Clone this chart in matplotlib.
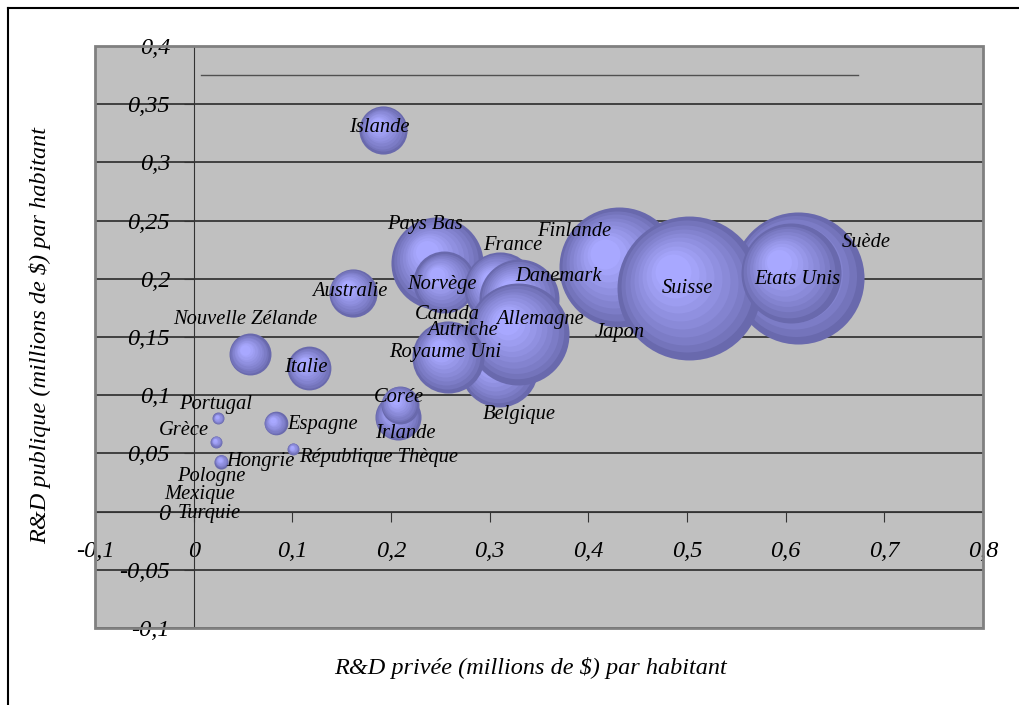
import numpy as np
import matplotlib
matplotlib.use("Agg")
import matplotlib.pyplot as plt
from matplotlib.ticker import MultipleLocator, FuncFormatter
from matplotlib.transforms import ScaledTranslation
from matplotlib.patches import Rectangle
from matplotlib.lines import Line2D

# R&D privée / publique par habitant, taille = poids de la bulle
pays = ['Suède', 'Finlande', 'Suisse', 'Etats Unis', 'Pays Bas', 'Norvège',
        'France', 'Danemark', 'Belgique', 'Allemagne', 'Royaume Uni',
        'Islande', 'Australie', 'Nouvelle Zélande', 'Italie', 'Irlande',
        'Corée', 'Espagne', 'Portugal', 'Grèce', 'République Thèque',
        'Hongrie', 'Canada', 'Autriche', 'Japon', 'Pologne', 'Mexique',
        'Turquie']
rd_privee = [0.612, 0.431, 0.502, 0.605, 0.247, 0.254, 0.310, 0.330, 0.309,
             0.329, 0.258, 0.192, 0.161, 0.057, 0.117, 0.207, 0.209, 0.083,
             0.025, 0.023, 0.101, 0.028, 0.257, 0.272, 0.432, 0.018, 0.006,
             0.016]
rd_publique = [0.201, 0.210, 0.192, 0.205, 0.214, 0.197, 0.192, 0.183, 0.123,
               0.153, 0.133, 0.328, 0.188, 0.135, 0.123, 0.081, 0.092, 0.076,
               0.080, 0.060, 0.054, 0.043, 0.169, 0.156, 0.154, 0.030, 0.015,
               -0.002]
taille = [43.6, 36.0, 51.8, 25.0, 21.2, 9.6, 13.0, 16.0, 15.2, 26.0, 13.0,
          5.8, 5.8, 4.4, 4.8, 5.3, 3.6, 1.4, 0.36, 0.36, 0.36, 0.5, 0, 0, 0,
          0, 0, 0]

# position des étiquettes par rapport au centre de la bulle (pixels)
decalage = {
    'Suède': (69, -35), 'Finlande': (-45, -36), 'Suisse': (-2, 0),
    'Etats Unis': (7, 7), 'Pays Bas': (-12, -38), 'Norvège': (-2, 2),
    'France': (13, -43), 'Danemark': (39, -22), 'Belgique': (21, 46),
    'Allemagne': (22, -14), 'Royaume Uni': (-3, -4), 'Islande': (-4, -2),
    'Australie': (-3, -1), 'Nouvelle Zélande': (-5, -35), 'Italie': (-3, -1),
    'Irlande': (7, 16), 'Corée': (-1, -7), 'Espagne': (47, 1),
    'Portugal': (-3, -14), 'Grèce': (-32, -11), 'République Thèque': (85, 9),
    'Hongrie': (39, 0),
}

plt.rcParams['font.family'] = ['Liberation Serif', 'DejaVu Serif']
plt.rcParams['font.style'] = 'italic'

DPI = 100
fig = plt.figure(figsize=(10.2, 7.05), dpi=DPI)
ax = fig.add_axes([95 / 1020, 1 - 628 / 705, 888 / 1020, 582 / 705])
ax.set_facecolor('#c0c0c0')
ax.set_xlim(-0.1, 0.8)
ax.set_ylim(-0.1, 0.4)

# axes croisés en zéro
for s in ['top', 'right']:
    ax.spines[s].set_visible(False)
ax.spines['left'].set_position(('data', 0))
ax.spines['bottom'].set_position(('data', 0))
ax.spines['left'].set_color('#333333')
ax.spines['bottom'].set_color('#333333')
ax.add_patch(Rectangle((0, 0), 1, 1, transform=ax.transAxes, fill=False,
                       edgecolor='#808080', lw=2, clip_on=False, zorder=5))

ax.xaxis.set_major_locator(MultipleLocator(0.1))
ax.yaxis.set_major_locator(MultipleLocator(0.05))
fmt = FuncFormatter(lambda v, p: ('%g' % round(v, 3)).replace('.', ','))
ax.xaxis.set_major_formatter(fmt)
ax.yaxis.set_major_formatter(fmt)
ax.tick_params(axis='y', direction='out', length=7, color='#333333',
               labelsize=17.5, pad=10)
ax.tick_params(axis='x', direction='out', length=7, color='#333333',
               labelsize=17.5, pad=14)
ax.yaxis.grid(True, color='#2a2a2a', lw=1.2)
ax.set_axisbelow(True)

# trait parasite en haut du graphique
ax.plot([0.007, 0.673], [0.375, 0.375], color='#505050', lw=1, zorder=1)

dark = np.array([0.41, 0.41, 0.68])
light = np.array([0.66, 0.66, 1.0])
N = 12
for i, (x, y, t) in enumerate(zip(rd_privee, rd_publique, taille)):
    if t <= 0:
        continue
    r = 10 * np.sqrt(t)  # rayon en pixels
    for k in range(N):
        f = k / N
        rk = r * (1 - f)
        dx = -0.3 * r * f / DPI
        dy = 0.3 * r * f / DPI
        c = dark + (light - dark) * min(1, (f / 0.75)) ** 0.8
        tr = ax.transData + ScaledTranslation(dx, dy, fig.dpi_scale_trans)
        ax.plot([x], [y], 'o', ms=2 * rk * 72 / DPI, mfc=tuple(c), mec='none',
                transform=tr, zorder=2 + i * 0.02 + k * 0.001)

for nom, x, y in zip(pays, rd_privee, rd_publique):
    ox, oy = decalage.get(nom, (0, 0))
    ax.annotate(nom, (x, y), xytext=(ox * 0.72, -oy * 0.72),
                textcoords='offset points', ha='center', va='center',
                fontsize=14.8, zorder=10)

fig.text(530 / 1020, 1 - 668 / 705,
         'R&D privée (millions de $) par habitant',
         ha='center', va='center', fontsize=17.5)
fig.text(40 / 1020, 1 - 336 / 705,
         'R&D publique (millions de $) par habitant',
         ha='center', va='center', rotation=90, fontsize=17.5)

# cadre extérieur
fig.add_artist(Line2D([8 / 1020, 8 / 1020], [0, 1 - 8 / 705], color='black',
                      lw=1.5))
fig.add_artist(Line2D([8 / 1020, 1], [1 - 8 / 705, 1 - 8 / 705],
                      color='black', lw=1.5))

fig.savefig('out.png', dpi=DPI)
